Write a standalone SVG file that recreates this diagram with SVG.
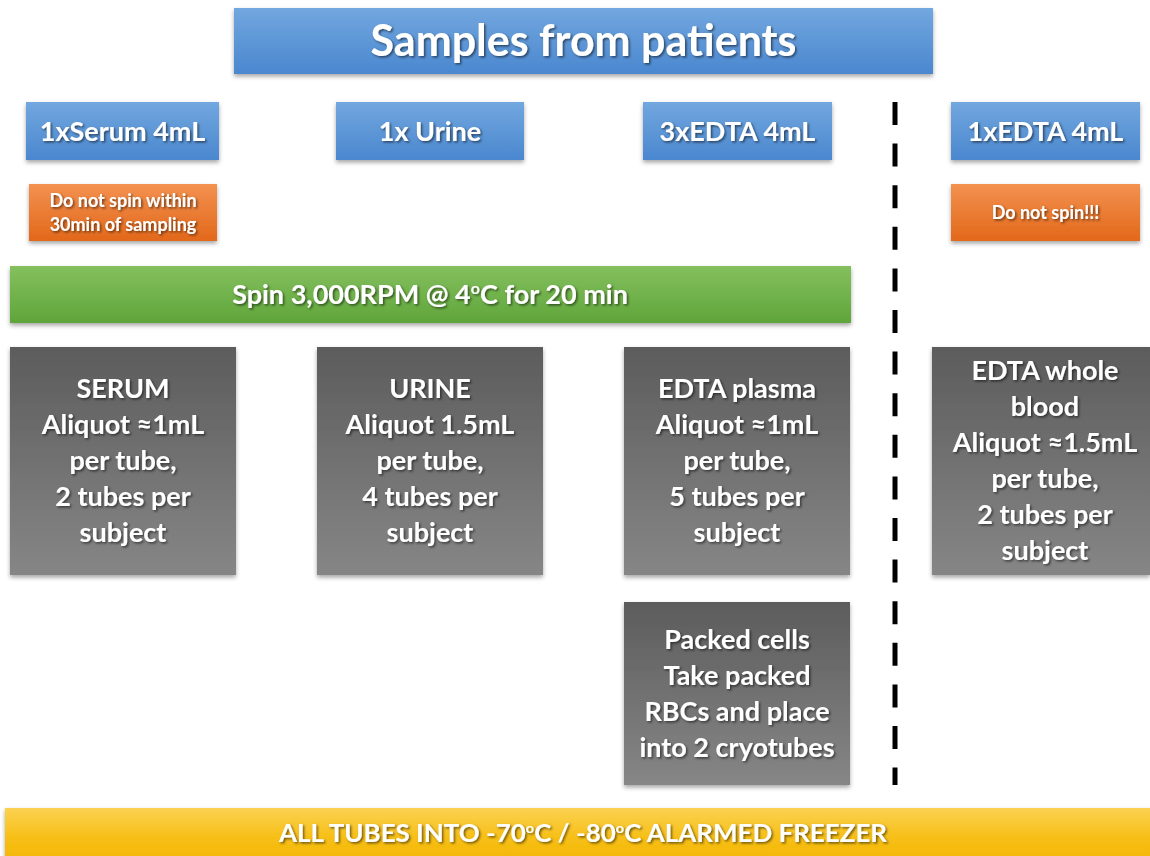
<svg xmlns="http://www.w3.org/2000/svg" width="1150" height="856" viewBox="0 0 1150 856">
<defs>
<linearGradient id="gBlue" x1="0" y1="0" x2="0" y2="1"><stop offset="0" stop-color="#72a7df"/><stop offset="1" stop-color="#4a87cf"/></linearGradient>
<linearGradient id="gOrange" x1="0" y1="0" x2="0" y2="1"><stop offset="0" stop-color="#f39150"/><stop offset="1" stop-color="#e2681a"/></linearGradient>
<linearGradient id="gGreen" x1="0" y1="0" x2="0" y2="1"><stop offset="0" stop-color="#84c05e"/><stop offset="1" stop-color="#5fa53a"/></linearGradient>
<linearGradient id="gGray" x1="0" y1="0" x2="0" y2="1"><stop offset="0" stop-color="#5c5c5c"/><stop offset="1" stop-color="#868686"/></linearGradient>
<linearGradient id="gYellow" x1="0" y1="0" x2="0" y2="1"><stop offset="0" stop-color="#fbd152"/><stop offset="0.5" stop-color="#f7bf16"/><stop offset="1" stop-color="#f2b400"/></linearGradient>
<filter id="boxShadow" x="-5%" y="-10%" width="110%" height="125%"><feDropShadow dx="0" dy="2.5" stdDeviation="2" flood-color="#000" flood-opacity="0.35"/></filter>
<filter id="txtShadow" x="-5%" y="-20%" width="110%" height="150%"><feDropShadow dx="1.5" dy="1.5" stdDeviation="1" flood-color="#000" flood-opacity="0.55"/></filter>
</defs>
<style>
text{font-family:Lato,"Open Sans","Liberation Sans",sans-serif;font-weight:bold;fill:#fff;text-anchor:middle;filter:url(#txtShadow)}
.box{filter:url(#boxShadow)}
.blue{fill:url(#gBlue)}
.orange{fill:url(#gOrange)}
.green{fill:url(#gGreen)}
.gray{fill:url(#gGray)}
.yellow{fill:url(#gYellow)}
.t40{font-size:43px}
.t27{font-size:27px}
.t25{font-size:27px}
.t16{font-size:18px}
</style>
<rect width="1150" height="856" fill="#fff"/>

<g id="title"><rect class="box blue" x="234" y="8" width="699" height="66"/><text class="t40" x="583.5" y="56">Samples from patients</text></g>

<g id="serum-tube"><rect class="box blue" x="26" y="102" width="193" height="58"/><text class="t27" x="122.5" y="141">1xSerum 4mL</text></g>
<g id="urine-tube"><rect class="box blue" x="336" y="102" width="188" height="58"/><text class="t27" x="430" y="141">1x Urine</text></g>
<g id="edta3-tube"><rect class="box blue" x="643" y="102" width="189" height="58"/><text class="t27" x="737.5" y="141">3xEDTA 4mL</text></g>
<g id="edta1-tube"><rect class="box blue" x="951" y="102" width="189" height="58"/><text class="t27" x="1045.5" y="141">1xEDTA 4mL</text></g>

<g id="serum-note"><rect class="box orange" x="29" y="184" width="188" height="57"/><text class="t16" x="123" y="207">Do not spin within</text><text class="t16" x="123" y="231">30min of sampling</text></g>
<g id="edta1-note"><rect class="box orange" x="951" y="184" width="189" height="57"/><text class="t16" x="1045.5" y="219">Do not spin!!!</text></g>

<g id="spin"><rect class="box green" x="10" y="266" width="841" height="57"/><text class="t25" x="430" y="304">Spin 3,000RPM @ 4<tspan font-size="16" dy="-10">o</tspan><tspan dy="10">C for 20 min</tspan></text></g>

<g id="serum"><rect class="box gray" x="10" y="347" width="226" height="228"/>
<text class="t25" x="123" y="398">SERUM</text><text class="t25" x="123" y="434">Aliquot ≈1mL</text><text class="t25" x="123" y="470">per tube,</text><text class="t25" x="123" y="506">2 tubes per</text><text class="t25" x="123" y="542">subject</text></g>

<g id="urine"><rect class="box gray" x="317" y="347" width="226" height="228"/>
<text class="t25" x="430" y="398">URINE</text><text class="t25" x="430" y="434">Aliquot 1.5mL</text><text class="t25" x="430" y="470">per tube,</text><text class="t25" x="430" y="506">4 tubes per</text><text class="t25" x="430" y="542">subject</text></g>

<g id="edta-plasma"><rect class="box gray" x="624" y="347" width="226" height="228"/>
<text class="t25" x="737" y="398">EDTA plasma</text><text class="t25" x="737" y="434">Aliquot ≈1mL</text><text class="t25" x="737" y="470">per tube,</text><text class="t25" x="737" y="506">5 tubes per</text><text class="t25" x="737" y="542">subject</text></g>

<g id="edta-whole-blood"><rect class="box gray" x="932" y="347" width="218" height="228"/>
<text class="t25" x="1045" y="380">EDTA whole</text><text class="t25" x="1045" y="416">blood</text><text class="t25" x="1045" y="452">Aliquot ≈1.5mL</text><text class="t25" x="1045" y="488">per tube,</text><text class="t25" x="1045" y="524">2 tubes per</text><text class="t25" x="1045" y="560">subject</text></g>

<g id="packed-cells"><rect class="box gray" x="624" y="602" width="226" height="183"/>
<text class="t25" x="737" y="649">Packed cells</text><text class="t25" x="737" y="685">Take packed</text><text class="t25" x="737" y="721">RBCs and place</text><text class="t25" x="737" y="757">into 2 cryotubes</text></g>

<g id="freezer"><rect class="box yellow" x="5" y="808" width="1150" height="60"/>
<text font-size="25" x="583" y="842" textLength="608" lengthAdjust="spacingAndGlyphs">ALL TUBES INTO -70<tspan font-size="14" dy="-9">o</tspan><tspan dy="9">C / -80</tspan><tspan font-size="14" dy="-9">o</tspan><tspan dy="9">C ALARMED FREEZER</tspan></text></g>

<g id="connectors"><line x1="895" y1="102" x2="895" y2="785" stroke="#000" stroke-width="5" stroke-dasharray="23 18.6"/></g>
</svg>
